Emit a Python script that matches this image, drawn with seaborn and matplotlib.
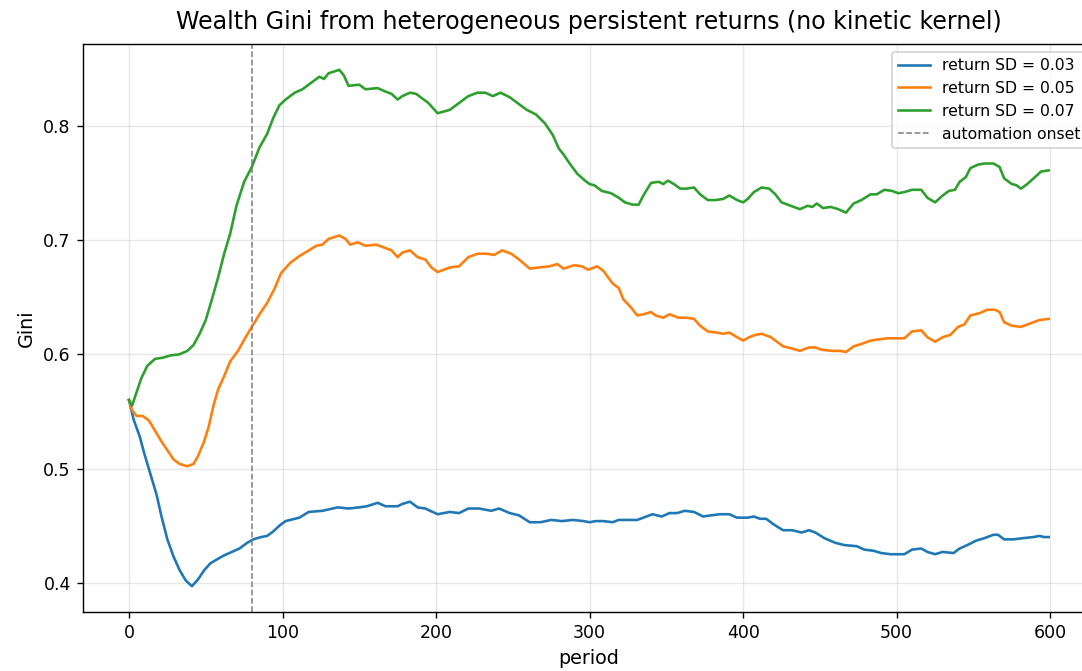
import pandas as pd
import seaborn as sns
import matplotlib
matplotlib.use('Agg')
import matplotlib.pyplot as plt

# values
period_03 = [0, 3, 7, 10, 14, 18, 21, 25, 29, 33, 37, 41, 45, 49, 53, 58, 62, 67, 72, 77, 81, 86, 90, 94, 98, 102,
             111, 117, 126, 136, 143, 150, 155, 162, 167, 175, 178, 183, 188, 193, 201,
             209, 215, 221, 228, 236, 241, 248, 254, 261, 268, 275, 282, 289, 296, 300,
             304, 309, 315, 319, 325, 331, 335, 341, 347, 352, 357, 362, 368, 374, 379, 385, 391, 396, 400,
             403, 407, 411, 415, 420, 426, 432, 438, 443, 447, 453, 460, 466, 474, 479, 485, 490, 496, 501,
             505, 510, 516, 520, 525, 530, 537, 541, 546, 552, 557, 563, 566, 570, 576, 582, 589, 593, 596, 599]
gini_03 = [0.560, 0.543, 0.528, 0.513, 0.495, 0.477, 0.459, 0.438, 0.423, 0.411, 0.402, 0.397, 0.403, 0.411, 0.417,
           0.421, 0.424, 0.427, 0.430, 0.435, 0.438, 0.440, 0.441, 0.445, 0.450, 0.454,
           0.457, 0.462, 0.463, 0.466, 0.465, 0.466, 0.467, 0.470, 0.467, 0.467, 0.469, 0.471, 0.466, 0.465, 0.460,
           0.462, 0.461, 0.465, 0.465, 0.463, 0.465, 0.461, 0.459, 0.453, 0.453, 0.455, 0.454, 0.455, 0.454, 0.453,
           0.454, 0.454, 0.453, 0.455, 0.455, 0.455, 0.457, 0.460, 0.458, 0.461, 0.461, 0.463, 0.462, 0.458, 0.459,
           0.460, 0.460, 0.457, 0.457,
           0.457, 0.458, 0.456, 0.456, 0.451, 0.446, 0.446, 0.444, 0.446, 0.444, 0.439, 0.435, 0.433, 0.432, 0.429,
           0.428, 0.426, 0.425, 0.425,
           0.425, 0.429, 0.430, 0.427, 0.425, 0.427, 0.426, 0.430, 0.433, 0.437, 0.439, 0.442, 0.442, 0.438, 0.438,
           0.439, 0.440, 0.441, 0.440, 0.440]

period_05 = [0, 2, 5, 9, 13, 17, 21, 25, 29, 33, 38, 42, 45, 49, 52, 55, 58, 62, 66, 71, 76, 80, 85, 90, 95, 99, 103,
             105, 111, 116, 122, 126, 130, 137, 141, 144, 149, 154, 161, 167, 171, 175, 178, 183, 188, 193, 197, 201,
             209, 215, 221, 227, 233, 238, 243, 249, 254, 261, 267, 274, 279, 283, 290, 295, 299,
             305, 309, 315, 319, 322, 327, 331, 335, 340, 343, 348, 352, 358, 363, 368, 372, 377, 383, 387, 391, 396, 400,
             404, 408, 412, 418, 422, 426, 432, 437, 443, 447, 451, 458, 463, 467, 472, 477, 483, 488, 494, 499,
             505, 510, 516, 520, 525, 530, 535, 540, 544, 548, 554, 559, 564, 567, 570, 575, 581, 587, 593, 599]
gini_05 = [0.560, 0.551, 0.546, 0.546, 0.542, 0.533, 0.524, 0.516, 0.508, 0.504, 0.502, 0.504, 0.511, 0.524, 0.537,
           0.555, 0.569, 0.581, 0.594, 0.603, 0.615, 0.624, 0.635, 0.645, 0.658, 0.671, 0.677,
           0.680, 0.686, 0.690, 0.695, 0.696, 0.701, 0.704, 0.701, 0.696, 0.698, 0.695, 0.696, 0.693, 0.691, 0.685,
           0.689, 0.691, 0.685, 0.683, 0.676, 0.672,
           0.676, 0.677, 0.685, 0.688, 0.688, 0.687, 0.691, 0.688, 0.683, 0.675, 0.676, 0.677, 0.679, 0.675, 0.678,
           0.677, 0.674,
           0.677, 0.673, 0.662, 0.658, 0.648, 0.641, 0.634, 0.635, 0.637, 0.634, 0.632, 0.635, 0.632, 0.632, 0.631,
           0.625, 0.620, 0.619, 0.618, 0.619, 0.615, 0.612,
           0.615, 0.617, 0.618, 0.615, 0.611, 0.607, 0.605, 0.603, 0.606, 0.606, 0.604, 0.603, 0.603, 0.602, 0.607,
           0.609, 0.612, 0.613, 0.614, 0.614,
           0.614, 0.620, 0.621, 0.615, 0.611, 0.615, 0.617, 0.624, 0.626, 0.634, 0.636, 0.639, 0.639, 0.637, 0.628,
           0.625, 0.624, 0.627, 0.630, 0.631]

period_07 = [0, 2, 5, 8, 12, 17, 22, 27, 33, 38, 42, 46, 50, 54, 58, 62, 66, 70, 75, 80, 85, 90, 94, 98, 102,
             108, 113, 118, 124, 127, 130, 137, 140, 143, 150, 154, 162, 167, 171, 175, 178, 183, 187, 191, 195, 201,
             209, 215, 221, 227, 232, 237, 242, 248, 253, 259, 265, 271, 276, 280, 283, 287, 292, 297, 300,
             303, 308, 314, 319, 323, 328, 332, 335, 340, 345, 348, 351, 355, 359, 363, 368, 372, 377, 382, 387, 391,
             396, 400,
             403, 407, 412, 417, 421, 425, 431, 437, 442, 445, 448, 452, 457, 462, 467, 472, 477, 483, 487, 492, 497,
             501, 505, 510, 516, 520, 525, 530, 534, 538, 541, 545, 548, 553, 557, 563, 567, 570, 575, 578, 581, 585,
             590, 594, 599]
gini_07 = [0.560, 0.555, 0.567, 0.579, 0.590, 0.596, 0.597, 0.599, 0.600, 0.603, 0.608, 0.618, 0.630, 0.648, 0.667,
           0.688, 0.706, 0.730, 0.751, 0.764, 0.781, 0.793, 0.807, 0.818, 0.823,
           0.829, 0.832, 0.837, 0.843, 0.841, 0.846, 0.849, 0.844, 0.835, 0.836, 0.832, 0.833, 0.830, 0.828, 0.823,
           0.826, 0.829, 0.828, 0.824, 0.820, 0.811,
           0.814, 0.820, 0.826, 0.829, 0.829, 0.826, 0.829, 0.825, 0.820, 0.814, 0.810, 0.802, 0.792, 0.780, 0.775,
           0.767, 0.758, 0.752, 0.749,
           0.748, 0.743, 0.741, 0.737, 0.733, 0.731, 0.731, 0.739, 0.750, 0.751, 0.749, 0.752, 0.749, 0.745, 0.745,
           0.746, 0.740, 0.735, 0.735, 0.736, 0.739, 0.735, 0.733,
           0.736, 0.742, 0.746, 0.745, 0.740, 0.733, 0.730, 0.727, 0.730, 0.729, 0.732, 0.728, 0.729, 0.727, 0.724,
           0.732, 0.735, 0.740, 0.740, 0.744, 0.743,
           0.741, 0.742, 0.744, 0.744, 0.737, 0.733, 0.739, 0.743, 0.744, 0.751, 0.755, 0.763, 0.766, 0.767, 0.767,
           0.764, 0.754, 0.749, 0.748, 0.745, 0.749, 0.755, 0.760, 0.761]

series_labels = ['return SD = 0.03', 'return SD = 0.05', 'return SD = 0.07']
onset_period = 80

colors = sns.color_palette('tab10', 3)
fig = plt.figure(figsize=(1082 / 125, 671 / 125), dpi=125)
# axes runs slightly past the right edge, like the cropped reference
ax = fig.add_axes([0.0767, 0.0879, 0.935, 0.8465])

for idx, (t, g) in enumerate([(period_03, gini_03), (period_05, gini_05), (period_07, gini_07)]):
    df = pd.DataFrame({'period': t, 'Gini': g})
    sns.lineplot(data=df, x='period', y='Gini', ax=ax, color=colors[idx], label=series_labels[idx], linewidth=1.5)

ax.axvline(onset_period, color='gray', linestyle='--', linewidth=0.9, label='automation onset')
ax.grid(True, alpha=0.3)
ax.set_title('Wealth Gini from heterogeneous persistent returns (no kinetic kernel)', fontsize=13.7, pad=8.5)
ax.set_xlabel('period', fontsize=11)
ax.set_ylabel('Gini', fontsize=11)
ax.tick_params(labelsize=10)
ax.legend(loc='upper right', fontsize=9)

fig.savefig('out.png', dpi=125)
